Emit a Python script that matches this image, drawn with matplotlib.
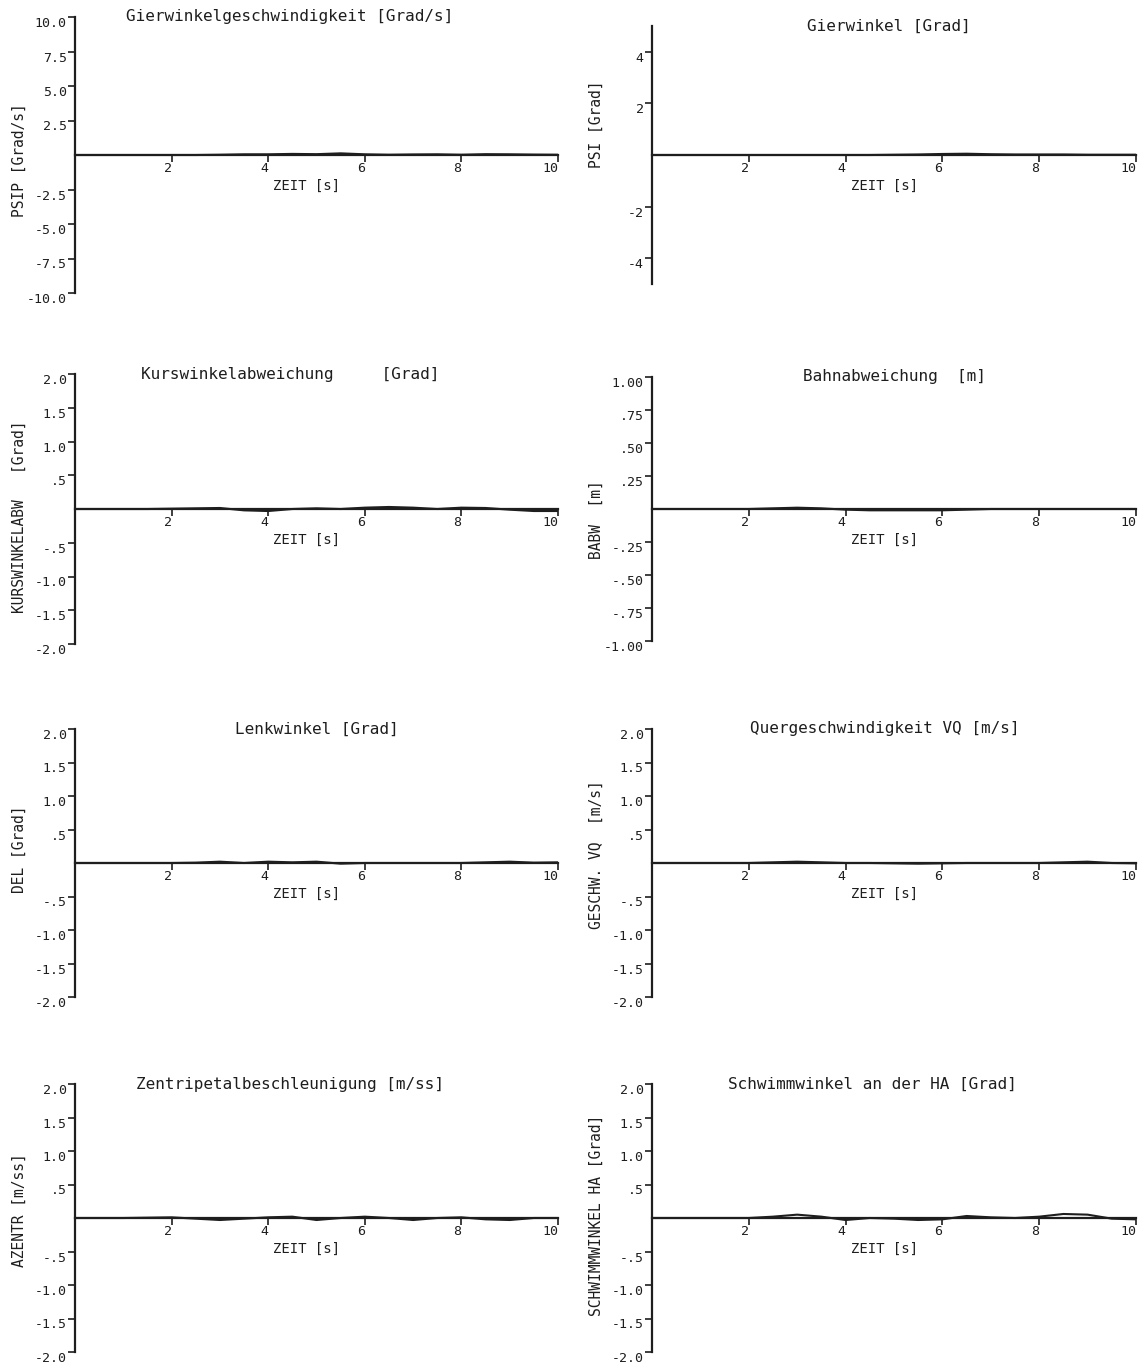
import numpy as np
import matplotlib
matplotlib.use('Agg')
import matplotlib.pyplot as plt

matplotlib.rc('font', family='DejaVu Sans Mono')

zeit = [0, 0.5, 1, 1.5, 2, 2.5, 3, 3.5, 4, 4.5, 5, 5.5, 6, 6.5, 7, 7.5, 8, 8.5, 9, 9.5, 10]

psip   = [0, 0, 0, 0, 0, 0, 0.02, 0.05, 0.05, 0.08, 0.06, 0.12, 0.05, 0.02, 0.04, 0.05, 0.02, 0.06, 0.05, 0.03, 0.02]
psi    = [0, 0, 0, 0, 0, 0, 0, 0, 0, 0, 0.01, 0.02, 0.04, 0.05, 0.03, 0.02, 0.02, 0.02, 0.01, 0.01, 0.01]
kursw  = [0, 0, 0, 0, 0.005, 0.01, 0.015, -0.02, -0.03, 0.0, 0.01, 0.0, 0.02, 0.03, 0.02, 0.0, 0.02, 0.015, -0.01, -0.03, -0.03]
babw   = [0, 0, 0, 0, 0, 0.005, 0.01, 0.005, -0.005, -0.01, -0.01, -0.01, -0.01, -0.005, 0, 0, 0, 0, 0, 0, 0]
delta  = [0, 0, 0, 0, 0, 0.005, 0.02, 0.0, 0.02, 0.01, 0.02, -0.01, 0, 0, 0, 0, 0, 0.01, 0.02, 0.005, 0.01]
vq     = [0, 0, 0, 0, 0, 0.01, 0.02, 0.01, 0, 0, -0.005, -0.01, -0.005, 0, 0, 0, 0, 0.01, 0.02, 0.0, -0.005]
azentr = [0, 0, 0, 0.005, 0.01, -0.01, -0.03, -0.01, 0.01, 0.02, -0.03, 0.0, 0.02, 0.0, -0.03, 0.0, 0.01, -0.02, -0.03, 0.0, 0.0]
schwha = [0, 0, 0, 0, 0, 0.02, 0.05, 0.02, -0.03, 0, -0.01, -0.03, -0.02, 0.03, 0.01, 0, 0.02, 0.06, 0.05, -0.01, -0.02]

titles = ['Gierwinkelgeschwindigkeit [Grad/s]', 'Gierwinkel [Grad]',
          'Kurswinkelabweichung     [Grad]', 'Bahnabweichung  [m]',
          'Lenkwinkel [Grad]', 'Quergeschwindigkeit VQ [m/s]',
          'Zentripetalbeschleunigung [m/ss]', 'Schwimmwinkel an der HA [Grad]']
ylabels = ['PSIP [Grad/s]', 'PSI [Grad]',
           'KURSWINKELABW   [Grad]', 'BABW  [m]',
           'DEL [Grad]', 'GESCHW. VQ  [m/s]',
           'AZENTR [m/ss]', 'SCHWIMMWINKEL HA [Grad]']
ylims = [10, 5, 2, 1, 2, 2, 2, 2]
yticks = [[10, 7.5, 5, 2.5, -2.5, -5, -7.5, -10], [4, 2, -2, -4],
          [2, 1.5, 1, 0.5, -0.5, -1, -1.5, -2], [1, 0.75, 0.5, 0.25, -0.25, -0.5, -0.75, -1],
          [2, 1.5, 1, 0.5, -0.5, -1, -1.5, -2], [2, 1.5, 1, 0.5, -0.5, -1, -1.5, -2],
          [2, 1.5, 1, 0.5, -0.5, -1, -1.5, -2], [2, 1.5, 1, 0.5, -0.5, -1, -1.5, -2]]
yticklabels = [['10.0', '7.5', '5.0', '2.5', '-2.5', '-5.0', '-7.5', '-10.0'], ['4', '2', '-2', '-4'],
               ['2.0', '1.5', '1.0', '.5', '-.5', '-1.0', '-1.5', '-2.0'],
               ['1.00', '.75', '.50', '.25', '-.25', '-.50', '-.75', '-1.00'],
               ['2.0', '1.5', '1.0', '.5', '-.5', '-1.0', '-1.5', '-2.0'],
               ['2.0', '1.5', '1.0', '.5', '-.5', '-1.0', '-1.5', '-2.0'],
               ['2.0', '1.5', '1.0', '.5', '-.5', '-1.0', '-1.5', '-2.0'],
               ['2.0', '1.5', '1.0', '.5', '-.5', '-1.0', '-1.5', '-2.0']]
xticks = [2, 4, 6, 8, 10]
xticklabels = ['2', '4', '6', '8', '10']
series = [psip, psi, kursw, babw, delta, vq, azentr, schwha]

W, H = 1138, 1364
fig = plt.figure(figsize=(W / 100, H / 100), dpi=100)
ink = '#1e1e1e'

# pixel layout of the scanned sheet
row_mid = [155, 509, 863, 1218]
col_x = [(75, 558), (652, 1136)]
half_h = [138, 129, 135, 132, 134, 134, 134, 134]
title_x = [0.445, 0.49, 0.445, 0.50, 0.50, 0.48, 0.445, 0.455]
ylab_y = [0.48, 0.62, 0.47, 0.46, 0.55, 0.53, 0.53, 0.51]

for i in range(8):
  r, c = divmod(i, 2)
  x0, x1 = col_x[c]
  y0 = row_mid[r] + half_h[i]
  ax = fig.add_axes([x0 / W, 1 - y0 / H, (x1 - x0) / W, 2 * half_h[i] / H])
  ax.plot(zeit, series[i], color=ink, lw=1.5)
  ax.set_xlim(0, 10)
  ax.set_ylim(-ylims[i], ylims[i])

  for s in ['top', 'right']:
    ax.spines[s].set_visible(False)
  ax.spines['bottom'].set_position(('data', 0))
  ax.spines['left'].set_linewidth(1.6)
  ax.spines['bottom'].set_linewidth(1.6)
  ax.spines['left'].set_color(ink)
  ax.spines['bottom'].set_color(ink)

  ax.set_yticks(yticks[i], yticklabels[i])
  ax.set_xticks(xticks, xticklabels)
  ax.tick_params(axis='y', direction='out', length=5, width=1.2, pad=1, labelsize=9.5, colors=ink)
  ax.tick_params(axis='x', direction='out', length=5, width=1.2, pad=0, labelsize=9.5, colors=ink)
  for lab in ax.get_yticklabels():
    lab.set_va('top')
  for lab in ax.get_xticklabels():
    lab.set_ha('right')

  ax.text(title_x[i], 1.0, titles[i], transform=ax.transAxes, ha='center', va='center',
          fontsize=11.5, color=ink)
  ax.annotate('ZEIT [s]', xy=(0.48, 0), xycoords=('axes fraction', 'data'),
              xytext=(0, -17), textcoords='offset points', ha='center', va='top',
              fontsize=10, color=ink)
  ax.text(-55 / (x1 - x0) - 0.002, ylab_y[i], ylabels[i], transform=ax.transAxes, rotation=90,
          ha='center', va='center', fontsize=10.5, color=ink)
  ax.patch.set_visible(False)

fig.savefig('out.png', dpi=100)
